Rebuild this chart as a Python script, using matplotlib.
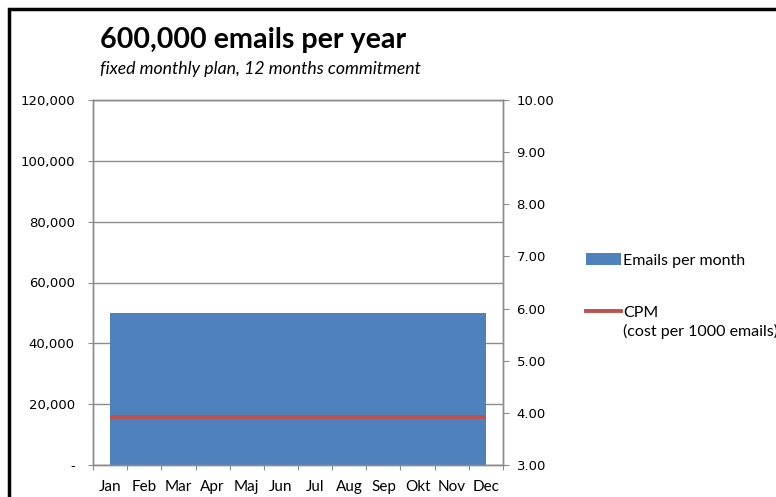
import matplotlib.pyplot as plt
from matplotlib.patches import Rectangle, Patch
from matplotlib.lines import Line2D
from matplotlib.ticker import FuncFormatter
import numpy as np


# data
months = ['Jan', 'Feb', 'Mar', 'Apr', 'Maj', 'Jun', 'Jul', 'Aug', 'Sep', 'Okt', 'Nov', 'Dec']
emails = [50000] * 12
cpm    = [3.92] * 12

# styles
blue  = '#4F81BD'
red   = '#C0504D'
grid  = '#8C8C8C'
font  = 'Lato'
tfont = 'DejaVu Sans'

fig = plt.figure(figsize=(7.76, 4.97), dpi=100)
ax = fig.add_axes([93 / 776, 32 / 497, 410 / 776, 365 / 497])
x = np.arange(len(months))

ax.fill_between(x, 0, emails, color=blue, linewidth=0, zorder=2)
ax.set_xlim(-0.5, len(months) - 0.5)
ax.set_ylim(0, 120000)
ax.set_yticks(np.arange(0, 120001, 20000))
ax.yaxis.set_major_formatter(FuncFormatter(lambda v, p: '-' if v == 0 else f'{int(v):,}'))
ax.grid(axis='y', color=grid, linewidth=1, zorder=1)
ax.set_axisbelow(True)

# category ticks sit between labels
ax.set_xticks(np.arange(-0.5, len(months), 1))
ax.set_xticklabels([])
ax.set_xticks(x, minor=True)
ax.set_xticklabels(months, minor=True, fontname=font, fontsize=11)
ax.tick_params(axis='x', which='minor', length=0, pad=11)
ax.tick_params(axis='x', which='major', length=3.6, color=grid, direction='out')
ax.tick_params(axis='y', length=3.6, color=grid, direction='out', pad=9.5, labelsize=9.5)
for lab in ax.get_yticklabels():
    lab.set_fontname(tfont)

ax2 = ax.twinx()
ax2.plot(x, cpm, color=red, linewidth=2.8, solid_capstyle='butt', zorder=3)
ax2.set_ylim(3, 10)
ax2.set_yticks(np.arange(3, 10.01, 1))
ax2.yaxis.set_major_formatter(FuncFormatter(lambda v, p: f'{v:.2f}'))
ax2.tick_params(axis='y', length=4.3, color=grid, direction='out', pad=5.5, labelsize=9.5)

for a in (ax, ax2):
    for s in a.spines.values():
        s.set_color(grid)
        s.set_linewidth(1)

# legend
handles = [Patch(facecolor=blue, edgecolor='none'),
           Line2D([0], [0], color=red, linewidth=2.8)]
fig.legend(handles, ['Emails per month', 'CPM'],
           loc='upper left', bbox_to_anchor=(572 / 776, 1 - 239 / 497),
           frameon=False, prop={'family': font, 'size': 11.5},
           handlelength=2.15, handletextpad=0.15, labelspacing=2.4)
fig.text(623 / 776, 1 - 331 / 497, '(cost per 1000 emails)', fontname=font,
         fontsize=11.5, va='center', ha='left')

# titles
fig.text(100 / 776, 1 - 40 / 497, '600,000 emails per year', fontname=font,
         fontsize=20.6, fontweight='bold', va='center', ha='left')
fig.text(100 / 776, 1 - 69 / 497, 'fixed monthly plan, 12 months commitment',
         fontname=font, fontsize=12.7, style='italic', va='center', ha='left')

# outer frame of the chart
fig.patches.append(Rectangle((9 / 776, -0.1), 1.2, 1 - 9 / 497 + 0.1,
                             transform=fig.transFigure, fill=False,
                             edgecolor='black', linewidth=2.5))

fig.savefig('out.png', dpi=100)
